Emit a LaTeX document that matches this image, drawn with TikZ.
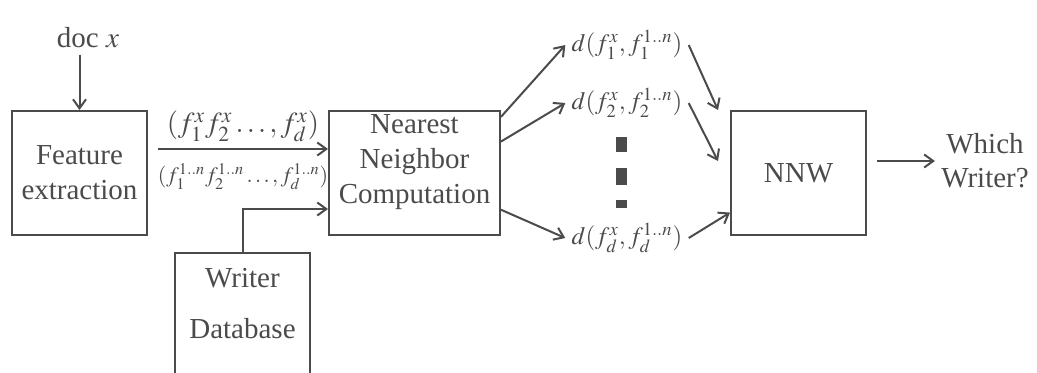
\documentclass[tikz,border=0pt]{standalone}
\usepackage{mathptmx}
\usepackage[no-math]{fontspec}
\setmainfont{Liberation Serif}
\usetikzlibrary{arrows.meta}
\definecolor{inkGray}{RGB}{75,75,75}
\newcommand{\alln}{1..n}

\begin{document}
\begin{tikzpicture}[x=0.5pt, y=-0.5pt,
    box/.style={draw=inkGray, line width=1pt, minimum width=67.5pt,
                minimum height=62pt, inner sep=0pt, align=center,
                text=inkGray, font=\fontsize{14.5}{17.5}\selectfont},
    arr/.style={-{Straight Barb[length=4.5pt, width=6.5pt]}, inkGray, line width=1pt},
    lbl/.style={text=inkGray, font=\fontsize{14.5}{17}\selectfont, inner sep=3pt},
    dst/.style={lbl, font=\fontsize{12.5}{15}\selectfont}
  ]
  \useasboundingbox (0,0) rectangle (1037,372);

  \node[box] (fe)  at (79.5,173)  {Feature\\extraction};
  \node[box, minimum width=85.5pt, text depth=14pt]
             (nnc) at (414.5,173) {Nearest\\Neighbor\\Computation};
  \node[box] (nnw) at (798.5,173) {NNW};
  \node[box, minimum height=65pt, anchor=north, text depth=15pt]
             (wdb) at (242.5,252) {Writer\\[8pt]Database};

  \node[lbl] (docx)  at (88,38)    {doc $x$};
  \node[dst] (d1)    at (627,45)   {$d(f_1^{x}, f_1^{\alln})$};
  \node[dst] (d2)    at (627,103)  {$d(f_2^{x}, f_2^{\alln})$};
  \node[dst] (dd)    at (627,238)  {$d(f_d^{x}, f_d^{\alln})$};
  \node[lbl, align=center] (which) at (985,161) {Which\\Writer?};

  % vertical dots between the distances
  \fill[inkGray] (616,137) rectangle (627,152);
  \fill[inkGray] (616,168) rectangle (627,185);
  \fill[inkGray] (616,200) rectangle (627,208);

  \draw[arr] (docx.south -| fe.north) -- (fe.north);
  \draw[arr] ([xshift=5pt, yshift=12pt]fe.east) --
        node[lbl, above=0pt]{$(f_1^{x} f_2^{x} \ldots, f_d^{x})$}
        node[lbl, below=6pt, inner sep=1pt, font=\fontsize{11}{13}\selectfont]
            {$(f_1^{\alln} f_2^{\alln} \ldots, f_d^{\alln})$}
        ([yshift=12pt]nnc.west);
  \draw[arr] (wdb.north) |- ([yshift=-18pt]nnc.west);

  \draw[arr] (nnc.33)  -- (d1.west);
  \draw[arr] (nnc.20)  -- (d2.west);
  \draw[arr] (nnc.-23) -- (dd.west);

  \draw[arr] (d1.east) -- ([xshift=-6pt]nnw.north west);
  \draw[arr] (d2.east) -- ([xshift=-6pt, yshift=6pt]nnw.west);
  \draw[arr] (dd.east) -- (nnw.-150);

  \draw[arr] ([xshift=5pt]nnw.east |- which.west) -- (which.west);
\end{tikzpicture}
\end{document}
